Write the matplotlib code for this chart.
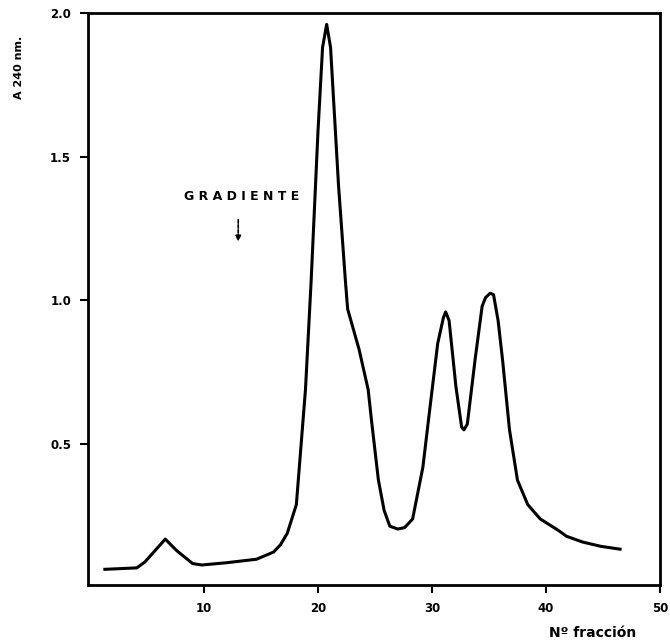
import matplotlib
matplotlib.use("Agg")
import matplotlib.pyplot as plt

# Perfil de elución (A 240 nm) frente al número de fracción
fraccion = [1.3, 4.1, 4.8, 5.7, 6.6, 7.6, 9.0, 9.8, 12.0, 14.6, 16.1, 16.7, 17.3,
            18.1, 18.9, 19.4, 20.0, 20.4, 20.76, 21.1, 21.8, 22.4, 22.6, 23.6,
            24.4, 24.7, 25.3, 25.8, 26.3, 27.0, 27.6, 28.3, 29.2, 29.8, 30.5,
            31.0, 31.2, 31.5, 32.1, 32.6, 32.8, 33.1, 33.8, 34.4, 34.7, 35.1,
            35.4, 35.8, 36.2, 36.8, 37.5, 38.4, 39.5, 41.1, 41.8, 43.2, 44.8, 46.5]
absorbancia = [0.065, 0.07, 0.09, 0.13, 0.17, 0.13, 0.085, 0.08, 0.088, 0.10, 0.125,
               0.15, 0.19, 0.29, 0.69, 1.07, 1.59, 1.88, 1.96, 1.88, 1.40, 1.07,
               0.97, 0.83, 0.69, 0.58, 0.375, 0.27, 0.215, 0.205, 0.21, 0.24, 0.42,
               0.62, 0.85, 0.94, 0.96, 0.93, 0.70, 0.56, 0.55, 0.57, 0.80, 0.98,
               1.01, 1.025, 1.02, 0.93, 0.79, 0.55, 0.375, 0.29, 0.24, 0.20, 0.18,
               0.16, 0.145, 0.135]

xticks = [10, 20, 30, 40, 50]
yticks = [0.5, 1.0, 1.5, 2.0]
ytick_labels = ["0.5", "1.0", "1.5", "2.0"]

fig = plt.figure(figsize=(6.7, 6.43), dpi=100)
ax = fig.add_axes([0.131, 0.090, 0.854, 0.890])

ax.plot(fraccion, absorbancia, color="black", lw=2.2, solid_joinstyle="round")

ax.set_xlim(-0.2, 50)
ax.set_ylim(0.01, 2.0)
ax.set_xticks(xticks)
ax.set_xticklabels([str(t) for t in xticks], fontsize=8.5, fontweight="bold")
ax.set_yticks(yticks)
ax.set_yticklabels(ytick_labels, fontsize=8.5, fontweight="bold")
ax.tick_params(direction="out", length=6, width=1.5, pad=6)
for s in ax.spines.values():
    s.set_linewidth(2)

# Marca de inicio del gradiente
ax.text(13.3, 1.36, "G R A D I E N T E", ha="center", va="center",
        fontsize=9, fontweight="bold")
ax.annotate("", xy=(13.0, 1.195), xytext=(13.0, 1.29),
            arrowprops=dict(arrowstyle="-|>", color="black", lw=1.2,
                            linestyle=(0, (2, 1)), mutation_scale=8))

fig.text(0.028, 0.895, "A 240 nm.", rotation=90, ha="center", va="center",
         fontsize=8, fontweight="bold")
fig.text(0.885, 0.015, "Nº fracción", ha="center", va="center",
         fontsize=10, fontweight="bold")

fig.savefig("out.png", dpi=100)
